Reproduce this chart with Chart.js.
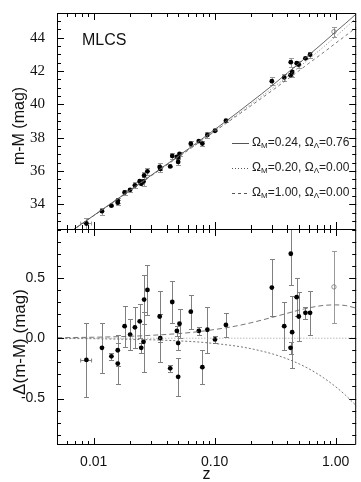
<!DOCTYPE html>
<html>
<head>
<meta charset="utf-8">
<script src="https://cdn.jsdelivr.net/npm/chart.js@4.4.1/dist/chart.umd.min.js"></script>
<style>
  html, body { margin: 0; padding: 0; background: #fff; }
  canvas { display: block; }
</style>
</head>
<body>
<canvas id="hubble" width="361" height="482"></canvas>
<script>
// supernovae: redshift, distance modulus, residual vs (0.20, 0.00), error
const snZ     = [0.0087, 0.0117, 0.0140, 0.0158, 0.0158, 0.0180, 0.0200, 0.0219, 0.0240, 0.0247, 0.0261, 0.0258,
                 0.0278, 0.0351, 0.0355, 0.0429, 0.0446, 0.0487, 0.0499, 0.0499, 0.0512, 0.0635, 0.0739, 0.0791,
                 0.0870, 0.1006, 0.1239, 0.297, 0.376, 0.426, 0.424, 0.437, 0.477, 0.496, 0.563, 0.615]
const snMu    = [32.86, 33.60, 33.93, 34.23, 34.11, 34.72, 34.88, 35.15, 35.40, 35.24, 35.74, 35.38,
                 35.99, 36.25, 36.13, 36.28, 36.91, 36.85, 36.82, 36.55, 37.04, 37.64, 37.80, 37.65,
                 38.17, 38.42, 39.02, 41.39, 41.62, 42.53, 41.75, 41.95, 42.47, 42.39, 42.76, 42.98]
const snResid = [-0.18, -0.08, -0.15, -0.10, -0.21, 0.10, 0.03, 0.09, 0.14, -0.08, 0.32, -0.03,
                 0.40, 0.18, 0.00, -0.25, 0.30, 0.06, -0.04, -0.32, 0.12, 0.22, 0.06, -0.24,
                 0.07, -0.01, 0.11, 0.42, 0.10, 0.70, -0.08, 0.05, 0.34, 0.18, 0.21, 0.21]
const snErr   = [0.31, 0.21, 0.03, 0.13, 0.17, 0.17, 0.13, 0.17, 0.14, 0.04, 0.20, 0.25,
                 0.21, 0.21, 0.20, 0.03, 0.17, 0.04, 0.06, 0.16, 0.12, 0.14, 0.03, 0.14,
                 0.19, 0.03, 0.10, 0.24, 0.20, 0.26, 0.05, 0.30, 0.16, 0.20, 0.05, 0.18]
const snZErr  = [0.0009, 0, 0, 0, 0, 0, 0, 0, 0, 0, 0, 0,
                 0, 0, 0, 0, 0, 0, 0, 0, 0, 0, 0, 0,
                 0, 0, 0, 0, 0, 0, 0, 0, 0, 0, 0, 0]

// the one open-circle point
const openZ = [0.969]
const openMu = [44.36]
const openResid = [0.425]
const openErr = [0.30]

// model curves
const modelZ   = [0.005, 0.007, 0.01, 0.015, 0.02, 0.03, 0.05, 0.07, 0.1, 0.15, 0.2, 0.3, 0.4, 0.5, 0.6, 0.7, 0.8, 1.0, 1.2, 1.5]
const muLambda = [31.82, 32.56, 33.34, 34.23, 34.87, 35.76, 36.90, 37.66, 38.49, 39.44, 40.14, 41.14, 41.89, 42.47, 42.96, 43.37, 43.73, 44.35, 44.84, 45.46]
const muOpen   = [31.82, 32.55, 33.33, 34.22, 34.85, 35.74, 36.86, 37.61, 38.42, 39.34, 40.01, 40.97, 41.68, 42.24, 42.71, 43.11, 43.46, 44.07, 44.57, 45.21]
const muEdS    = [31.82, 32.55, 33.33, 34.21, 34.84, 35.73, 36.84, 37.58, 38.38, 39.28, 39.92, 40.84, 41.51, 42.03, 42.46, 42.82, 43.13, 43.67, 44.10, 44.64]
const dLambda  = [0.004, 0.006, 0.008, 0.012, 0.016, 0.024, 0.038, 0.052, 0.072, 0.101, 0.128, 0.173, 0.207, 0.233, 0.251, 0.264, 0.272, 0.276, 0.271, 0.248]
const dOpen    = [0, 0, 0, 0, 0, 0, 0, 0, 0, 0, 0, 0, 0, 0, 0, 0, 0, 0, 0, 0]
const dEdS     = [-0.002, -0.003, -0.004, -0.007, -0.009, -0.013, -0.022, -0.030, -0.044, -0.065, -0.087, -0.130, -0.172, -0.213, -0.253, -0.292, -0.330, -0.402, -0.470, -0.565]

// axes
const xTickValues = [0.01, 0.1, 1]
const xTickLabels = ["0.01", "0.10", "1.00"]
const topTickValues = [34, 36, 38, 40, 42, 44]
const topTickLabels = ["34", "36", "38", "40", "42", "44"]
const botTickValues = [-0.5, 0, 0.5]
const botTickLabels = ["-0.5", "0.0", "0.5"]
const legendModels = [["0.24", "0.76"], ["0.20", "0.00"], ["1.00", "0.00"]]

const SANS = "'Liberation Sans', Arial, Helvetica, sans-serif"
const SERIF = "'Liberation Serif', 'Times New Roman', serif"

const pts = (xs, ys) => xs.map((x, i) => ({ x, y: ys[i] }))

const curve = (data, yAxisID, color, dash, width) => ({
  type: "line", data, yAxisID,
  borderColor: color, borderWidth: width || 1, borderDash: dash,
  pointRadius: 0, fill: false, cubicInterpolationMode: "monotone"
})

// error bars, drawn under the dots
const errorBars = {
  id: "errorBars",
  beforeDatasetsDraw(chart) {
    const { ctx, chartArea: a } = chart
    const xs = chart.scales.x
    chart.data.datasets.forEach((ds, i) => {
      if (!ds.errY) return
      const ys = chart.scales[ds.yAxisID]
      const meta = chart.getDatasetMeta(i)
      ctx.save()
      ctx.beginPath()
      ctx.rect(a.left, ys.top, a.right - a.left, ys.bottom - ys.top)
      ctx.clip()
      ctx.strokeStyle = ds.errColor
      ctx.lineWidth = 1
      meta.data.forEach((el, j) => {
        const p = ds.data[j]
        const e = ds.errY[j]
        const px = Math.round(el.x) + 0.5
        const y1 = Math.round(ys.getPixelForValue(p.y + e)) + 0.5
        const y2 = Math.round(ys.getPixelForValue(p.y - e)) + 0.5
        ctx.beginPath()
        ctx.moveTo(px, y1); ctx.lineTo(px, y2)
        ctx.moveTo(px - 2.5, y1); ctx.lineTo(px + 2.5, y1)
        ctx.moveTo(px - 2.5, y2); ctx.lineTo(px + 2.5, y2)
        if (ds.errX && ds.errX[j]) {
          const x1 = xs.getPixelForValue(p.x - ds.errX[j])
          const x2 = xs.getPixelForValue(p.x + ds.errX[j])
          const py = Math.round(el.y) + 0.5
          ctx.moveTo(x1, py); ctx.lineTo(x2, py)
          ctx.moveTo(x1, py - 2); ctx.lineTo(x1, py + 2)
          ctx.moveTo(x2, py - 2); ctx.lineTo(x2, py + 2)
        }
        ctx.stroke()
      })
      ctx.restore()
    })
  }
}

// frames, inward tick marks, labels and legend
const decorations = {
  id: "decorations",
  afterDraw(chart) {
    const { ctx, chartArea: a, scales } = chart
    const xs = scales.x, yt = scales.yTop, yb = scales.yBot
    const MAJ = 7, MIN = 4
    ctx.save()
    ctx.strokeStyle = "#000"
    ctx.lineWidth = 1

    const L = a.left + 0.5, R = a.right - 0.5
    const T = Math.round(yt.top) + 0.5, B = Math.round(yb.bottom) - 0.5
    const M = Math.round(yt.bottom) + 0.5
    ctx.beginPath()
    ctx.rect(L, T, R - L, B - T)
    ctx.moveTo(L, M); ctx.lineTo(R, M)
    ctx.stroke()

    // x ticks on both panels
    ctx.beginPath()
    for (const d of [0.001, 0.01, 0.1, 1]) {
      for (let k = 1; k <= 9; k++) {
        const v = k * d
        if (v < xs.min || v > xs.max) continue
        const len = k === 1 ? MAJ : MIN
        const px = Math.round(xs.getPixelForValue(v)) + 0.5
        for (const s of [yt, yb]) {
          ctx.moveTo(px, s.top); ctx.lineTo(px, s.top + len)
          ctx.moveTo(px, s.bottom); ctx.lineTo(px, s.bottom - len)
        }
      }
    }
    // y ticks, top panel every 0.5, major every 2
    for (let v = 33; v <= 45.4; v += 0.5) {
      const len = v % 2 === 0 ? MAJ : MIN
      const py = Math.round(yt.getPixelForValue(v)) + 0.5
      ctx.moveTo(a.left, py); ctx.lineTo(a.left + len, py)
      ctx.moveTo(a.right, py); ctx.lineTo(a.right - len, py)
    }
    // bottom panel every 0.1, major every 0.5
    for (let k = -8; k <= 9; k++) {
      const len = k % 5 === 0 ? MAJ : MIN
      const py = Math.round(yb.getPixelForValue(k / 10)) + 0.5
      ctx.moveTo(a.left, py); ctx.lineTo(a.left + len, py)
      ctx.moveTo(a.right, py); ctx.lineTo(a.right - len, py)
    }
    ctx.stroke()

    // text
    ctx.fillStyle = "#111"
    ctx.textAlign = "left"
    ctx.textBaseline = "middle"
    ctx.font = `16px ${SANS}`
    ctx.fillText("MLCS", 82, 41)

    ctx.textAlign = "center"
    ctx.fillText("z", (a.left + a.right) / 2, 475)

    ctx.save()
    ctx.translate(20, 126)
    ctx.rotate(-Math.PI / 2)
    ctx.fillText("m-M (mag)", 0, 0)
    ctx.restore()
    ctx.save()
    ctx.translate(20, 342)
    ctx.rotate(-Math.PI / 2)
    ctx.font = `17px ${SANS}`
    ctx.fillText("\u0394(m-M) (mag)", 0, 0)
    ctx.restore()

    // legend
    const rows = [143, 168, 193]
    const dashes = [[], [1, 2], [3, 3]]
    rows.forEach((y, i) => {
      ctx.save()
      ctx.strokeStyle = "#555"
      ctx.setLineDash(dashes[i])
      ctx.beginPath()
      ctx.moveTo(232, y + 0.5); ctx.lineTo(249, y + 0.5)
      ctx.stroke()
      ctx.restore()

      let x = 252
      const put = (txt, size, dy) => {
        ctx.font = `${size}px ${SANS}`
        ctx.fillText(txt, x, y + dy)
        x += ctx.measureText(txt).width
      }
      ctx.textAlign = "left"
      ctx.fillStyle = "#222"
      put("\u03A9", 12, 0)
      put("M", 8, 3)
      put("=" + legendModels[i][0] + ", \u03A9", 12, 0)
      put("\u039B", 8, 3)
      put("=" + legendModels[i][1], 12, 0)
    })
    ctx.restore()
  }
}

new Chart(document.getElementById("hubble"), {
  type: "scatter",
  data: {
    datasets: [
      curve(pts(modelZ, muLambda), "yTop", "#555", [], 0.9),
      curve(pts(modelZ, muOpen), "yTop", "#888", [1, 2], 1),
      curve(pts(modelZ, muEdS), "yTop", "#666", [3, 3], 0.9),
      curve(pts(modelZ, dLambda), "yBot", "#666", [5, 3], 0.9),
      curve(pts(modelZ, dOpen), "yBot", "#999", [1, 2], 1),
      curve(pts(modelZ, dEdS), "yBot", "#666", [2, 2], 0.9),
      {
        type: "scatter", data: pts(snZ, snMu), yAxisID: "yTop",
        errY: snErr, errX: snZErr, errColor: "#999",
        pointRadius: 2.4, backgroundColor: "#000", borderWidth: 0
      },
      {
        type: "scatter", data: pts(openZ, openMu), yAxisID: "yTop",
        errY: openErr, errColor: "#999",
        pointRadius: 2.2, backgroundColor: "rgba(0,0,0,0)", borderColor: "#777", borderWidth: 0.8
      },
      {
        type: "scatter", data: pts(snZ, snResid), yAxisID: "yBot",
        errY: snErr, errX: snZErr, errColor: "#808080",
        pointRadius: 2.4, backgroundColor: "#000", borderWidth: 0
      },
      {
        type: "scatter", data: pts(openZ, openResid), yAxisID: "yBot",
        errY: openErr, errColor: "#999",
        pointRadius: 2.2, backgroundColor: "rgba(0,0,0,0)", borderColor: "#777", borderWidth: 0.8
      }
    ]
  },
  options: {
    responsive: false,
    animation: false,
    events: [],
    layout: { padding: { top: 3, right: 3, left: 0, bottom: 0 } },
    plugins: { legend: { display: false }, tooltip: { enabled: false } },
    scales: {
      x: {
        type: "logarithmic", min: 0.00497, max: 1.48,
        grid: { display: false }, border: { display: false },
        afterBuildTicks: s => { s.ticks = xTickValues.map(v => ({ value: v })) },
        afterFit: s => { s.height = 37 },
        ticks: {
          autoSkip: false, maxRotation: 0, padding: 1, color: "#111",
          font: { family: SANS, size: 14 },
          callback: (v, i) => xTickLabels[i]
        }
      },
      yTop: {
        type: "linear", position: "left", stack: "panels", stackWeight: 1, weight: 2,
        min: 32.53, max: 45.48,
        grid: { display: false }, border: { display: false },
        afterBuildTicks: s => { s.ticks = topTickValues.map(v => ({ value: v })) },
        afterFit: s => { s.width = 57 },
        ticks: {
          padding: 4, color: "#111",
          font: { family: SERIF, size: 15 },
          callback: (v, i) => topTickLabels[i]
        }
      },
      yBot: {
        type: "linear", position: "left", stack: "panels", stackWeight: 1, weight: 1,
        min: -0.885, max: 0.905,
        grid: { display: false }, border: { display: false },
        afterBuildTicks: s => { s.ticks = botTickValues.map(v => ({ value: v })) },
        afterFit: s => { s.width = 57 },
        ticks: {
          padding: 4, color: "#111",
          font: { family: SANS, size: 14 },
          callback: (v, i) => botTickLabels[i]
        }
      }
    }
  },
  plugins: [errorBars, decorations]
})
</script>
</body>
</html>
